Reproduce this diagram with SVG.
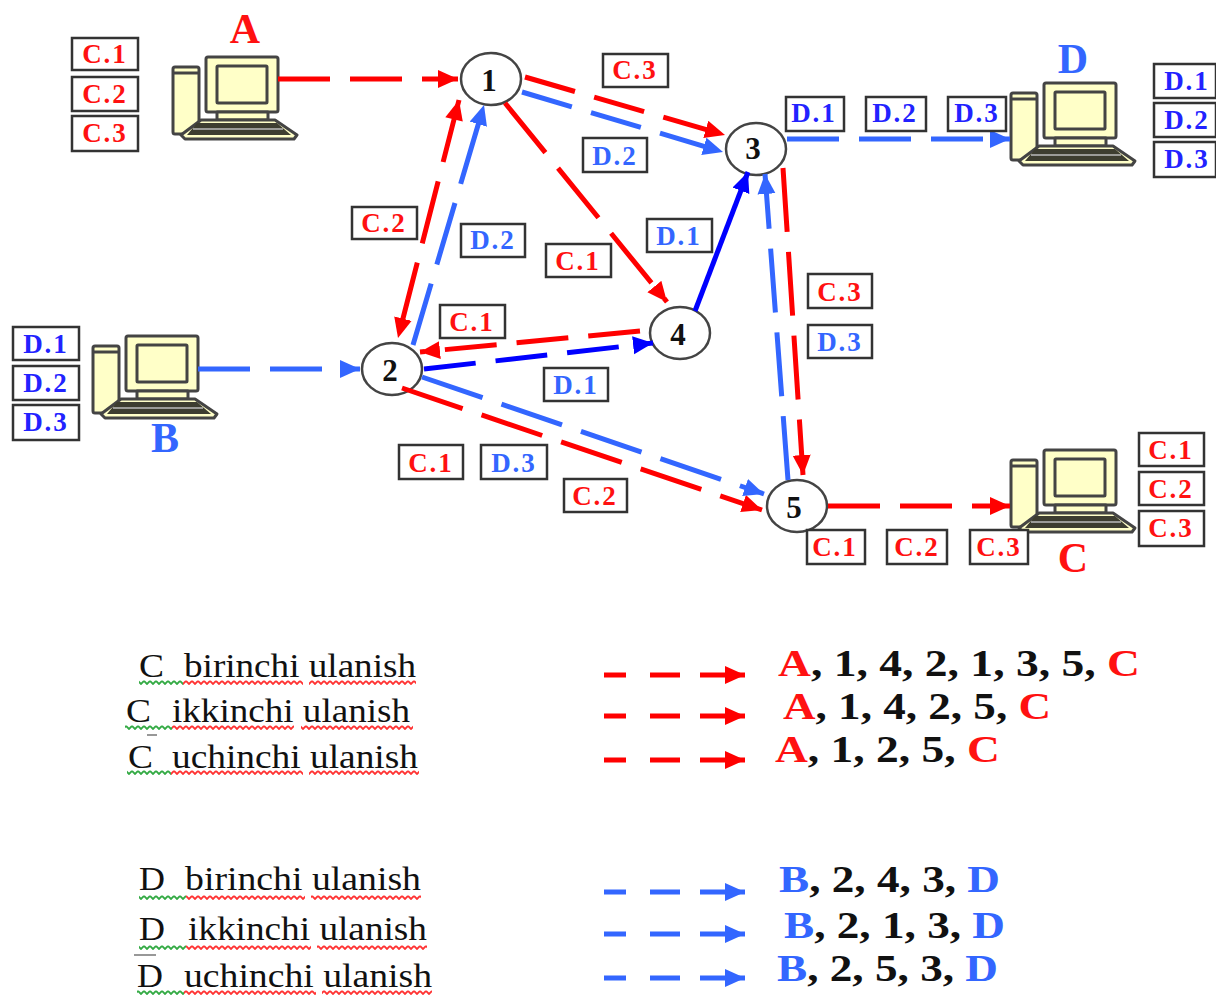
<svg xmlns="http://www.w3.org/2000/svg" width="1216" height="995" viewBox="0 0 1216 995">
<style>
text{font-family:"Liberation Serif","Times New Roman",serif}
.b{fill:#fff;stroke:#333;stroke-width:2.5}
.l{font-size:27px;font-weight:bold;text-anchor:middle;letter-spacing:2px}
.r{fill:#f11}.u{fill:#36f}.v{fill:#22f}
.e{fill:none;stroke-width:5}
.sr{stroke:#f00;marker-end:url(#ar)}.su{stroke:#36f;marker-end:url(#au)}.sd{stroke:#00f;marker-end:url(#ad)}
.d1{stroke-dasharray:52 20}.d2{stroke-dasharray:64 20}
.n{fill:#fff;stroke:#444;stroke-width:2.5}
.nt{font-size:31px;font-weight:bold;text-anchor:middle;fill:#111}
.big{font-size:42px;font-weight:bold;text-anchor:middle}
.leg{font-size:33px;fill:#111}
.res{font-size:37px;font-weight:bold;fill:#111}
.pc{stroke:#444;stroke-width:3;fill:#ffffc8;stroke-linejoin:round}
</style>
<defs>
<marker id="ar" markerUnits="userSpaceOnUse" markerWidth="24" markerHeight="20" refX="20" refY="9" orient="auto"><path d="M0 0L20 9L0 18z" fill="#f00"/></marker>
<marker id="ar2" markerUnits="userSpaceOnUse" markerWidth="24" markerHeight="20" refX="0" refY="9" orient="auto"><path d="M20 0L0 9L20 18z" fill="#f00"/></marker>
<marker id="au" markerUnits="userSpaceOnUse" markerWidth="24" markerHeight="20" refX="20" refY="9" orient="auto"><path d="M0 0L20 9L0 18z" fill="#36f"/></marker>
<marker id="ad" markerUnits="userSpaceOnUse" markerWidth="24" markerHeight="20" refX="20" refY="9" orient="auto"><path d="M0 0L20 9L0 18z" fill="#00f"/></marker>
<pattern id="wr" width="6" height="5" patternUnits="userSpaceOnUse"><path d="M0 1L3 4L6 1" fill="none" stroke="#f33" stroke-width="1.8"/></pattern>
<pattern id="wg" width="6" height="5" patternUnits="userSpaceOnUse"><path d="M0 1L3 4L6 1" fill="none" stroke="#3a4" stroke-width="1.8"/></pattern>
<g id="pc">
<rect class="pc" x="0" y="10" width="26" height="67" rx="2"/><path d="M0 16H26" stroke="#444" stroke-width="3"/>
<rect class="pc" x="33" y="0" width="72" height="55" rx="2"/>
<rect class="pc" x="44" y="9" width="50" height="37" rx="1"/>
<rect class="pc" x="44" y="55" width="51" height="8"/>
<path class="pc" d="M28 63H102L124 78L121 82H12L8 78z"/>
<path d="M24 66H104L118 78H14z" fill="#3d3d30"/><path d="M20 72H110" stroke="#bbb" stroke-width="1.5"/>
</g>
</defs>
<rect width="1216" height="995" fill="#fff"/>
<g id="computer-A"><use href="#pc" x="173" y="57"/><text class="big r" x="245" y="43">A</text></g>
<g id="computer-D"><use href="#pc" x="1011" y="83"/><text class="big u" x="1073" y="73">D</text></g>
<g id="computer-B"><use href="#pc" x="93" y="336"/><text class="big u" x="165" y="452">B</text></g>
<g id="computer-C"><use href="#pc" x="1011" y="450"/><text class="big r" x="1073" y="572">C</text></g>
<g id="node-1"><ellipse class="n" cx="491" cy="79" rx="30" ry="26"/><text class="nt" x="489" y="91">1</text></g>
<g id="node-2"><ellipse class="n" cx="392" cy="369" rx="30" ry="26"/><text class="nt" x="390" y="381">2</text></g>
<g id="node-3"><ellipse class="n" cx="756" cy="149" rx="30" ry="26"/><text class="nt" x="753" y="159">3</text></g>
<g id="node-4"><ellipse class="n" cx="680" cy="333" rx="30" ry="26"/><text class="nt" x="678" y="345">4</text></g>
<g id="node-5"><ellipse class="n" cx="797" cy="506" rx="30" ry="26"/><text class="nt" x="794" y="518">5</text></g>
<g id="connectors">
<path class="e sr d1" d="M278 79H458"/>
<path class="e sr d1" d="M525 77L725 135"/>
<path class="e su d1" d="M522 92L723 152"/>
<path class="e sr d2" d="M505 103L667 302"/>
<path class="e sr d2" d="M459 100L398 338" marker-start="url(#ar2)"/>
<path class="e su d2" d="M413 345L484 105"/>
<path class="e sd" d="M695 311L748 172"/>
<path class="e sr d1" d="M640 331L420 352"/>
<path class="e sd d1" d="M424 369L653 343"/>
<path class="e sr d2" d="M402 388L762 510"/>
<path class="e su d2" d="M422 377L764 494"/>
<path class="e su d1" d="M198 369H360"/>
<path class="e sr d2" d="M783 168L803 475"/>
<path class="e su d2" d="M788 480L765 174"/>
<path class="e su d1" d="M787 139H1010"/>
<path class="e sr d1" d="M828 506H1010"/>
<path class="e sr" stroke-dasharray="22 24 30 20 100" d="M604 675H745"/>
<path class="e sr" stroke-dasharray="22 24 30 20 100" d="M604 716H745"/>
<path class="e sr" stroke-dasharray="22 24 30 20 100" d="M604 760H745"/>
<path class="e su" stroke-dasharray="22 24 30 20 100" d="M604 892H745"/>
<path class="e su" stroke-dasharray="22 24 30 20 100" d="M604 934H745"/>
<path class="e su" stroke-dasharray="22 24 30 20 100" d="M604 978H745"/>
</g>
<g id="labels">
<rect class="b" x="72" y="38" width="66" height="32"/><text class="l r" x="105" y="63">C.1</text>
<rect class="b" x="72" y="77" width="66" height="34"/><text class="l r" x="105" y="103">C.2</text>
<rect class="b" x="72" y="116" width="66" height="35"/><text class="l r" x="105" y="142">C.3</text>
<rect class="b" x="1154" y="64" width="62" height="34"/><text class="l v" x="1187" y="90">D.1</text>
<rect class="b" x="1154" y="103" width="62" height="34"/><text class="l v" x="1187" y="129">D.2</text>
<rect class="b" x="1154" y="142" width="62" height="35"/><text class="l v" x="1187" y="168">D.3</text>
<rect class="b" x="13" y="327" width="66" height="33"/><text class="l v" x="46" y="353">D.1</text>
<rect class="b" x="13" y="366" width="66" height="34"/><text class="l v" x="46" y="392">D.2</text>
<rect class="b" x="13" y="405" width="66" height="35"/><text class="l v" x="46" y="431">D.3</text>
<rect class="b" x="1139" y="433" width="65" height="33"/><text class="l r" x="1171" y="459">C.1</text>
<rect class="b" x="1139" y="472" width="65" height="33"/><text class="l r" x="1171" y="498">C.2</text>
<rect class="b" x="1139" y="511" width="65" height="35"/><text class="l r" x="1171" y="537">C.3</text>
<rect class="b" x="603" y="54" width="65" height="33"/><text class="l r" x="635" y="79">C.3</text>
<rect class="b" x="583" y="138" width="64" height="34"/><text class="l u" x="615" y="165">D.2</text>
<rect class="b" x="786" y="97" width="58" height="34"/><text class="l v" x="814" y="122">D.1</text>
<rect class="b" x="866" y="97" width="60" height="34"/><text class="l v" x="895" y="122">D.2</text>
<rect class="b" x="948" y="97" width="58" height="34"/><text class="l v" x="977" y="122">D.3</text>
<rect class="b" x="352" y="207" width="65" height="32"/><text class="l r" x="384" y="232">C.2</text>
<rect class="b" x="461" y="224" width="64" height="33"/><text class="l u" x="493" y="249">D.2</text>
<rect class="b" x="546" y="244" width="65" height="33"/><text class="l r" x="578" y="270">C.1</text>
<rect class="b" x="647" y="219" width="65" height="33"/><text class="l u" x="679" y="245">D.1</text>
<rect class="b" x="440" y="305" width="65" height="33"/><text class="l r" x="472" y="331">C.1</text>
<rect class="b" x="544" y="368" width="64" height="33"/><text class="l u" x="576" y="394">D.1</text>
<rect class="b" x="808" y="274" width="64" height="34"/><text class="l r" x="840" y="301">C.3</text>
<rect class="b" x="808" y="325" width="64" height="33"/><text class="l u" x="840" y="351">D.3</text>
<rect class="b" x="399" y="445" width="64" height="34"/><text class="l r" x="431" y="472">C.1</text>
<rect class="b" x="481" y="445" width="66" height="34"/><text class="l u" x="514" y="472">D.3</text>
<rect class="b" x="564" y="479" width="63" height="33"/><text class="l r" x="595" y="505">C.2</text>
<rect class="b" x="807" y="530" width="58" height="34"/><text class="l r" x="835" y="556">C.1</text>
<rect class="b" x="887" y="530" width="60" height="34"/><text class="l r" x="917" y="556">C.2</text>
<rect class="b" x="970" y="530" width="58" height="34"/><text class="l r" x="999" y="556">C.3</text>
</g>
<g id="legend-text">
<text class="leg" x="139" y="677" textLength="25" lengthAdjust="spacingAndGlyphs">C</text><text class="leg" x="184" y="677" textLength="232" lengthAdjust="spacingAndGlyphs">birinchi ulanish</text>
<text class="leg" x="126" y="722" textLength="25" lengthAdjust="spacingAndGlyphs">C</text><text class="leg" x="172" y="722" textLength="238" lengthAdjust="spacingAndGlyphs">ikkinchi ulanish</text>
<text class="leg" x="128" y="768" textLength="25" lengthAdjust="spacingAndGlyphs">C</text><text class="leg" x="172" y="768" textLength="246" lengthAdjust="spacingAndGlyphs">uchinchi ulanish</text>
<text class="leg" x="139" y="890" textLength="26" lengthAdjust="spacingAndGlyphs">D</text><text class="leg" x="185" y="890" textLength="236" lengthAdjust="spacingAndGlyphs">birinchi ulanish</text>
<text class="leg" x="139" y="940" textLength="26" lengthAdjust="spacingAndGlyphs">D</text><text class="leg" x="188" y="940" textLength="239" lengthAdjust="spacingAndGlyphs">ikkinchi ulanish</text>
<text class="leg" x="137" y="987" textLength="26" lengthAdjust="spacingAndGlyphs">D</text><text class="leg" x="184" y="987" textLength="248" lengthAdjust="spacingAndGlyphs">uchinchi ulanish</text>
<path d="M147 735H157M134 955H156" stroke="#777" stroke-width="1.5"/>
<rect x="139" y="680" width="44" height="5" fill="url(#wg)"/><rect x="183" y="680" width="120" height="5" fill="url(#wr)"/><rect x="309" y="680" width="107" height="5" fill="url(#wr)"/>
<rect x="125" y="725" width="47" height="5" fill="url(#wg)"/><rect x="172" y="725" width="122" height="5" fill="url(#wr)"/><rect x="301" y="725" width="112" height="5" fill="url(#wr)"/>
<rect x="127" y="770" width="44" height="5" fill="url(#wg)"/><rect x="171" y="770" width="132" height="5" fill="url(#wr)"/><rect x="309" y="770" width="110" height="5" fill="url(#wr)"/>
<rect x="139" y="895" width="47" height="5" fill="url(#wg)"/><rect x="186" y="895" width="119" height="5" fill="url(#wr)"/><rect x="311" y="895" width="110" height="5" fill="url(#wr)"/>
<rect x="139" y="945" width="47" height="5" fill="url(#wg)"/><rect x="186" y="945" width="125" height="5" fill="url(#wr)"/><rect x="317" y="945" width="110" height="5" fill="url(#wr)"/>
<rect x="137" y="990" width="47" height="5" fill="url(#wg)"/><rect x="184" y="990" width="132" height="5" fill="url(#wr)"/><rect x="322" y="990" width="110" height="5" fill="url(#wr)"/>
<text class="res" x="778" y="676" textLength="362" lengthAdjust="spacingAndGlyphs"><tspan class="r">A</tspan>, 1, 4, 2, 1, 3, 5, <tspan class="r">C</tspan></text>
<text class="res" x="783" y="719" textLength="268" lengthAdjust="spacingAndGlyphs"><tspan class="r">A</tspan>, 1, 4, 2, 5, <tspan class="r">C</tspan></text>
<text class="res" x="775" y="762" textLength="225" lengthAdjust="spacingAndGlyphs"><tspan class="r">A</tspan>, 1, 2, 5, <tspan class="r">C</tspan></text>
<text class="res" x="779" y="892" textLength="221" lengthAdjust="spacingAndGlyphs"><tspan class="u">B</tspan>, 2, 4, 3, <tspan class="u">D</tspan></text>
<text class="res" x="784" y="938" textLength="221" lengthAdjust="spacingAndGlyphs"><tspan class="u">B</tspan>, 2, 1, 3, <tspan class="u">D</tspan></text>
<text class="res" x="777" y="981" textLength="221" lengthAdjust="spacingAndGlyphs"><tspan class="u">B</tspan>, 2, 5, 3, <tspan class="u">D</tspan></text>
</g>
</svg>
